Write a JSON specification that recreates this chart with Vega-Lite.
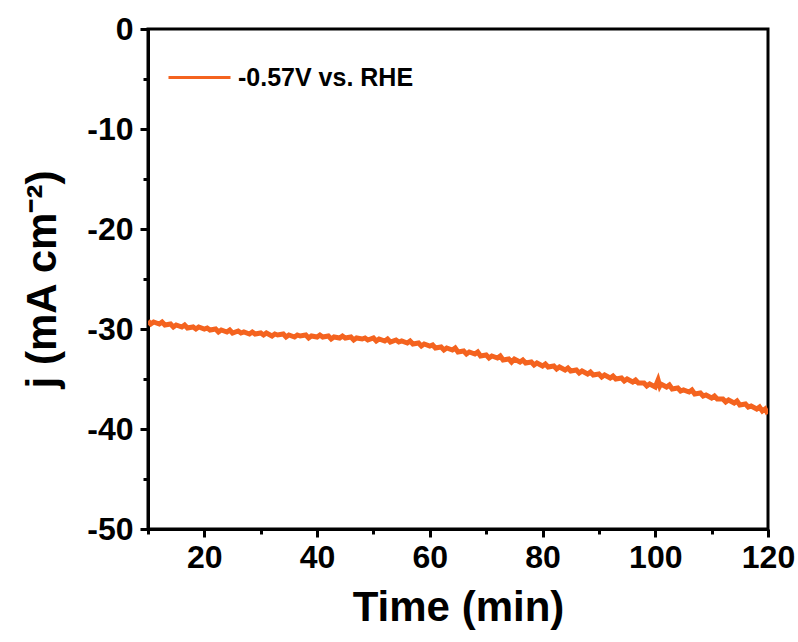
{
  "$schema": "https://vega.github.io/schema/vega-lite/v6.json",
  "width": 620,
  "height": 500,
  "autosize": "none",
  "padding": {"left": 148, "top": 29, "right": 30, "bottom": 113},
  "background": "white",
  "config": {
    "font": "Liberation Sans",
    "view": {"stroke": "black", "strokeWidth": 3},
    "axis": {
      "domainColor": "black",
      "domainWidth": 3,
      "tickColor": "black",
      "tickWidth": 3,
      "labelFont": "Liberation Sans",
      "labelFontWeight": "bold",
      "labelFontSize": 32,
      "labelColor": "black",
      "titleFont": "Liberation Sans",
      "titleFontWeight": "bold",
      "titleFontSize": 42,
      "titleColor": "black",
      "grid": false
    }
  },
  "data": {
    "values": [
      {"t": 10, "j": -29.2}, {"t": 10.5, "j": -29.5}, {"t": 11, "j": -29.3}, {"t": 12, "j": -29.5}, {"t": 12.5, "j": -29.3}, {"t": 13, "j": -29.6},
      {"t": 14, "j": -29.5}, {"t": 14.5, "j": -29.8}, {"t": 15, "j": -29.6}, {"t": 16, "j": -29.8}, {"t": 16.5, "j": -29.6}, {"t": 17, "j": -29.9},
      {"t": 18, "j": -29.8}, {"t": 18.5, "j": -30.0}, {"t": 19, "j": -29.8}, {"t": 20, "j": -30.0}, {"t": 20.5, "j": -29.9}, {"t": 21, "j": -30.1},
      {"t": 22, "j": -30.0}, {"t": 22.5, "j": -30.3}, {"t": 23, "j": -30.1}, {"t": 24, "j": -30.3}, {"t": 24.5, "j": -30.1}, {"t": 25, "j": -30.4},
      {"t": 26, "j": -30.2}, {"t": 26.5, "j": -30.4}, {"t": 27, "j": -30.3}, {"t": 28, "j": -30.5}, {"t": 28.5, "j": -30.3}, {"t": 29, "j": -30.5},
      {"t": 30, "j": -30.4}, {"t": 30.5, "j": -30.6}, {"t": 31, "j": -30.4}, {"t": 32, "j": -30.7}, {"t": 32.5, "j": -30.5}, {"t": 33, "j": -30.6},
      {"t": 34, "j": -30.5}, {"t": 34.5, "j": -30.8}, {"t": 35, "j": -30.6}, {"t": 36, "j": -30.8}, {"t": 36.5, "j": -30.6}, {"t": 37, "j": -30.7},
      {"t": 38, "j": -30.6}, {"t": 38.5, "j": -30.9}, {"t": 39, "j": -30.7}, {"t": 40, "j": -30.8}, {"t": 40.5, "j": -30.6}, {"t": 41, "j": -30.8},
      {"t": 42, "j": -30.7}, {"t": 42.5, "j": -31.0}, {"t": 43, "j": -30.8}, {"t": 44, "j": -30.9}, {"t": 44.5, "j": -30.7}, {"t": 45, "j": -30.9},
      {"t": 46, "j": -30.8}, {"t": 46.5, "j": -31.1}, {"t": 47, "j": -30.9}, {"t": 48, "j": -31.0}, {"t": 48.5, "j": -30.9}, {"t": 49, "j": -31.1},
      {"t": 50, "j": -30.9}, {"t": 50.5, "j": -31.2}, {"t": 51, "j": -31.0}, {"t": 52, "j": -31.2}, {"t": 52.5, "j": -31.0}, {"t": 53, "j": -31.3},
      {"t": 54, "j": -31.1}, {"t": 54.5, "j": -31.3}, {"t": 55, "j": -31.2}, {"t": 56, "j": -31.4}, {"t": 56.5, "j": -31.2}, {"t": 57, "j": -31.5},
      {"t": 58, "j": -31.4}, {"t": 58.5, "j": -31.7}, {"t": 59, "j": -31.5}, {"t": 60, "j": -31.7}, {"t": 60.5, "j": -31.6}, {"t": 61, "j": -31.9},
      {"t": 62, "j": -31.8}, {"t": 62.5, "j": -32.1}, {"t": 63, "j": -31.9}, {"t": 64, "j": -32.1}, {"t": 64.5, "j": -31.9}, {"t": 65, "j": -32.3},
      {"t": 66, "j": -32.2}, {"t": 66.5, "j": -32.5}, {"t": 67, "j": -32.3}, {"t": 68, "j": -32.5}, {"t": 68.5, "j": -32.3}, {"t": 69, "j": -32.7},
      {"t": 70, "j": -32.6}, {"t": 70.5, "j": -32.9}, {"t": 71, "j": -32.7}, {"t": 72, "j": -32.9}, {"t": 72.5, "j": -32.7}, {"t": 73, "j": -33.1},
      {"t": 74, "j": -33.0}, {"t": 74.5, "j": -33.3}, {"t": 75, "j": -33.0}, {"t": 76, "j": -33.3}, {"t": 76.5, "j": -33.1}, {"t": 77, "j": -33.4},
      {"t": 78, "j": -33.3}, {"t": 78.5, "j": -33.6}, {"t": 79, "j": -33.4}, {"t": 80, "j": -33.7}, {"t": 80.5, "j": -33.5}, {"t": 81, "j": -33.8},
      {"t": 82, "j": -33.7}, {"t": 82.5, "j": -34.0}, {"t": 83, "j": -33.8}, {"t": 84, "j": -34.1}, {"t": 84.5, "j": -33.9}, {"t": 85, "j": -34.2},
      {"t": 86, "j": -34.1}, {"t": 86.5, "j": -34.4}, {"t": 87, "j": -34.2}, {"t": 88, "j": -34.5}, {"t": 88.5, "j": -34.3}, {"t": 89, "j": -34.6},
      {"t": 90, "j": -34.5}, {"t": 90.5, "j": -34.8}, {"t": 91, "j": -34.6}, {"t": 92, "j": -34.9}, {"t": 92.5, "j": -34.7}, {"t": 93, "j": -35.0},
      {"t": 94, "j": -34.9}, {"t": 94.5, "j": -35.2}, {"t": 95, "j": -35.0}, {"t": 96, "j": -35.3}, {"t": 96.5, "j": -35.1}, {"t": 97, "j": -35.4},
      {"t": 98, "j": -35.4}, {"t": 98.5, "j": -35.7}, {"t": 99, "j": -35.5}, {"t": 100, "j": -35.8}, {"t": 100.5, "j": -35.1}, {"t": 100.8, "j": -35.7},
      {"t": 101, "j": -35.5}, {"t": 102, "j": -35.8}, {"t": 102.5, "j": -35.6}, {"t": 103, "j": -36.0}, {"t": 104, "j": -35.9}, {"t": 104.5, "j": -36.2},
      {"t": 105, "j": -36.1}, {"t": 106, "j": -36.3}, {"t": 106.5, "j": -36.1}, {"t": 107, "j": -36.5}, {"t": 108, "j": -36.4}, {"t": 108.5, "j": -36.7},
      {"t": 109, "j": -36.6}, {"t": 110, "j": -36.9}, {"t": 110.5, "j": -36.7}, {"t": 111, "j": -37.0}, {"t": 112, "j": -37.0}, {"t": 112.5, "j": -37.3},
      {"t": 113, "j": -37.1}, {"t": 114, "j": -37.4}, {"t": 114.5, "j": -37.2}, {"t": 115, "j": -37.6}, {"t": 116, "j": -37.5}, {"t": 116.5, "j": -37.8},
      {"t": 117, "j": -37.7}, {"t": 118, "j": -38.0}, {"t": 118.5, "j": -37.8}, {"t": 119, "j": -38.2}, {"t": 119.5, "j": -38.0}, {"t": 120, "j": -38.5}
    ]
  },
  "mark": {"type": "line", "strokeWidth": 5, "clip": true},
  "encoding": {
    "x": {
      "field": "t",
      "type": "quantitative",
      "scale": {"domain": [10, 120], "nice": false, "zero": false},
      "axis": {
        "title": "Time (min)",
        "values": [10, 20, 30, 40, 50, 60, 70, 80, 90, 100, 110, 120],
        "labelExpr": "datum.value % 20 == 0 ? datum.label : ''",
        "tickSize": {"condition": {"test": "datum.value % 20 == 0", "value": 8}, "value": 5},
        "labelPadding": 5,
        "titlePadding": 14,
        "labelFlush": false
      }
    },
    "y": {
      "field": "j",
      "type": "quantitative",
      "scale": {"domain": [-50, 0], "nice": false, "zero": false},
      "axis": {
        "title": "j (mA cm⁻²)",
        "values": [0, -5, -10, -15, -20, -25, -30, -35, -40, -45, -50],
        "labelExpr": "datum.value % 10 == 0 ? toString(datum.value) : ''",
        "tickSize": {"condition": {"test": "datum.value % 10 == 0", "value": 8}, "value": 5},
        "labelPadding": 7,
        "titlePadding": 22,
        "labelFlush": false
      }
    },
    "color": {
      "datum": "-0.57V vs. RHE",
      "scale": {"range": ["#F4631F"]},
      "legend": {
        "title": null,
        "orient": "none",
        "legendX": 19,
        "legendY": 16,
        "padding": 0,
        "symbolType": "stroke",
        "symbolSize": 3844,
        "symbolStrokeWidth": 3,
        "labelFont": "Liberation Sans",
        "labelFontWeight": "bold",
        "labelFontSize": 25,
        "labelColor": "black",
        "labelOffset": 6,
        "labelLimit": 0
      }
    }
  }
}
